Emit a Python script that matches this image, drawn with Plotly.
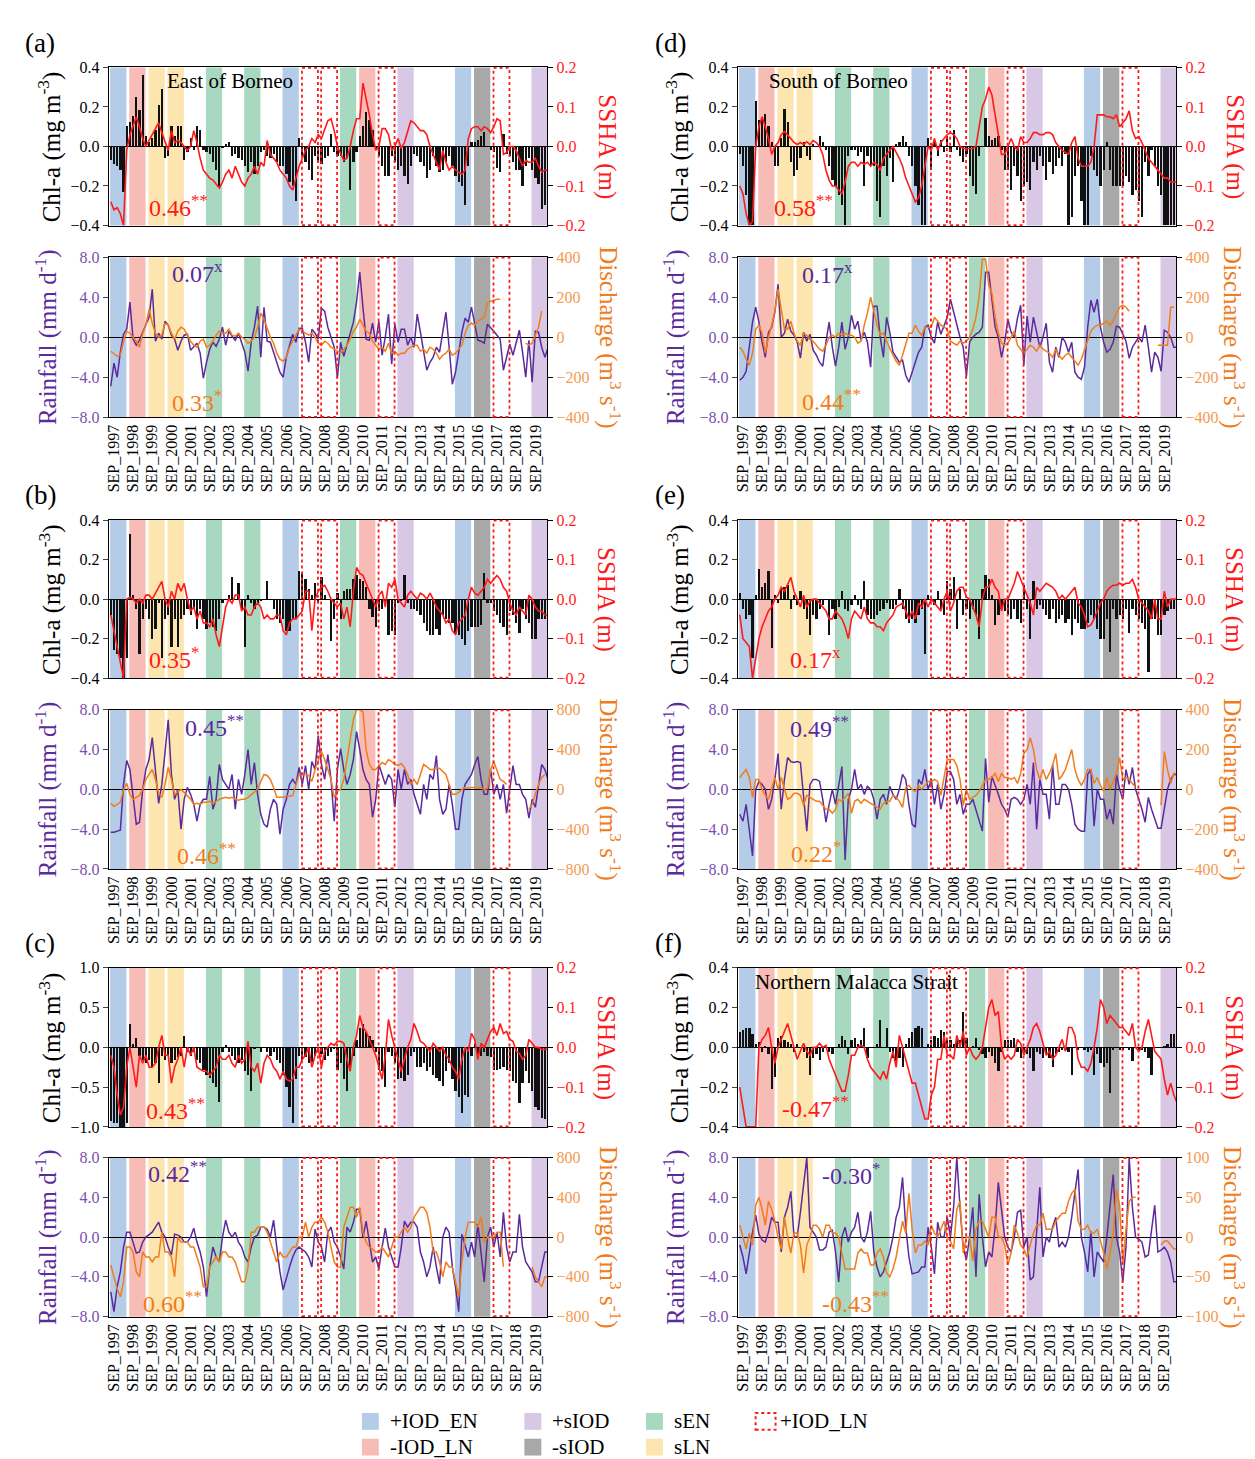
import plotly.graph_objects as go

W, H = 1255, 1459
FONT = "Liberation Serif, Times New Roman, serif"
RED = "#ff1a1a"
PURPLE = "#5b2a9c"
PURPLE_T = "#7a4fb0"
ORANGE = "#f07c1c"
ORANGE_T = "#f59a50"


def px(xp):
    return xp / W


def py(yp):
    return 1 - yp / H


# ---------------- time axis / ticks ----------------
N = 138
months = [-2 + 2 * k for k in range(N)]          # months since SEP 1997, bi-monthly
tick_years = list(range(1997, 2020))
tick_labels = ["SEP_%d" % y for y in tick_years]

# ---------------- climate event categories ----------------
event_names = ["+IOD_EN", "-IOD_LN", "sLN", "sEN", "+sIOD", "-sIOD", "+IOD_LN"]
event_years = {
    "+IOD_EN": [1997, 2006, 2015],
    "-IOD_LN": [1998, 2010],
    "sLN": [1999, 2000],
    "sEN": [2002, 2004, 2009],
    "+sIOD": [2012, 2019],
    "-sIOD": [2016],
    "+IOD_LN": [2007, 2008, 2011, 2017],
}
event_colors = {
    "+IOD_EN": "#b4cce8", "-IOD_LN": "#f8bcb6", "sLN": "#fde5b0",
    "sEN": "#a9d8c0", "+sIOD": "#d8c8e6", "-sIOD": "#a8a8a8", "+IOD_LN": None,
}

# ---------------- (a) East of Borneo ----------------
chl_a = [
    -0.07, -0.09, -0.10, -0.12, -0.23, 0.10,
    0.12, 0.15, 0.25, 0.18, 0.36, 0.05,
    0.02, 0.04, 0.08, 0.21, 0.29, -0.06,
    -0.05, 0.10, 0.05, 0.10, 0.10, -0.07,
    -0.03, 0.04, -0.02, 0.10, 0.08, -0.02,
    -0.03, -0.04, -0.08, -0.12, -0.20, -0.01,
    0.01, 0.02, -0.05, -0.04, -0.06, -0.07,
    -0.10, -0.13, -0.08, -0.14, -0.10, -0.03,
    -0.02, -0.05, -0.06, -0.04, -0.08, -0.10,
    -0.10, -0.14, -0.18, -0.20, -0.28, 0.04,
    -0.05, -0.08, -0.12, -0.17, -0.05, -0.08,
    -0.09, -0.06, -0.05, 0.06, -0.03, -0.05,
    -0.05, -0.08, -0.06, -0.22, -0.08, -0.03,
    0.05, 0.10, 0.17, 0.13, 0.08, -0.02,
    -0.05, -0.10, -0.15, -0.15, -0.05, -0.08,
    -0.12, -0.10, -0.15, -0.19, -0.10, -0.04,
    -0.05, -0.08, -0.10, -0.16, -0.12, -0.05,
    -0.10, -0.13, -0.12, -0.08, -0.05, -0.10,
    -0.15, -0.18, -0.20, -0.30, -0.10, 0.02,
    0.02, 0.03, 0.05, 0.07, 0.00, -0.02,
    -0.03, -0.11, -0.13, 0.06, -0.04, -0.05,
    -0.08, -0.12, -0.12, -0.20, -0.10, -0.06,
    -0.12, -0.16, -0.19, -0.32, -0.30, -0.30,
]
ssha_a = [
    -0.14, -0.16, -0.155, -0.17, -0.20, -0.01,
    0.03, 0.05, 0.075, 0.05, 0.02, 0.0,
    0.015, 0.03, 0.045, 0.06, 0.035, 0.01,
    -0.01, 0.04, 0.01, 0.015, 0.01, 0.0,
    -0.01, 0.0, 0.04, 0.01, -0.03, -0.06,
    -0.07, -0.08, -0.085, -0.095, -0.105, -0.09,
    -0.07, -0.06, -0.08, -0.05, -0.07, -0.09,
    -0.10, -0.08, -0.07, -0.05, -0.07, -0.04,
    -0.05, 0.015, -0.02, -0.03, -0.04, -0.06,
    -0.07, -0.08, -0.10, -0.11, -0.08, -0.05,
    -0.03, -0.01, 0.0, 0.02, 0.01, 0.03,
    0.02, 0.04, 0.065, 0.07, 0.04, 0.0,
    -0.02, -0.035, -0.03, 0.0, 0.04, 0.07,
    0.07, 0.16, 0.12, 0.08, 0.03, -0.01,
    0.0, 0.045, 0.045, 0.03, -0.01, 0.0,
    0.02, -0.005, 0.01, 0.04, 0.065, 0.06,
    0.05, 0.04, 0.04, 0.03, 0.0, -0.02,
    -0.04, -0.06, -0.01, -0.04, -0.06, -0.05,
    -0.06, -0.065, -0.07, -0.06, 0.02, 0.045,
    0.05, 0.05, 0.04, 0.05, 0.045, 0.035,
    0.05, 0.07, 0.065, -0.02, -0.015, 0.0,
    0.0, -0.01, -0.03, -0.05, -0.035, -0.04,
    -0.04, -0.03, -0.05, -0.065, -0.06, -0.06,
]
rain_a = [
    -4.9, -2.6, -4.0, -1.5, 0.3, 0.8,
    3.5, -0.2, -0.8, -0.3, 0.5, 1.2,
    2.0, 4.8, -0.4, 0.4, -0.2, 1.6,
    1.2, 0.2, -0.2, -1.3, -0.4, 0.2,
    0.3, -1.3, -1.0, -0.6, -1.6, -4.1,
    -2.5, -1.2, -0.5, -0.9, -0.2, 1.0,
    -0.8, 0.6, 0.1, -0.3, 0.4, -0.5,
    -1.5, -3.4, -0.5, 1.0, 3.1, -2.0,
    3.0, -0.4, -0.5, -1.5, -2.5, -3.5,
    -4.0, -2.0, -0.8, 0.3, -0.5, 0.9,
    0.9, -0.5, -2.5, 0.8, 0.4, -0.2,
    2.9, 2.6, 1.0, 0.0, -1.0, -4.1,
    -0.5, -1.9, -0.8, 0.3, 1.5, 3.5,
    6.5, 3.0, -0.2, -0.3, 1.4, -0.5,
    1.6, -1.8, 0.0, 2.3, -2.7, 1.3,
    -0.5, 0.8, 0.8, -0.8, 0.0, -1.0,
    2.3, 0.5, -1.5, -3.3, -2.5, -2.0,
    -1.0, -1.5, 0.5, 2.5, -1.0, -4.7,
    -3.5, -1.5, 0.5, 1.9, 1.5, 3.0,
    1.5, -0.3, -0.4, -0.6, 1.3, 1.0,
    0.6, 0.2, -0.2, -3.3, -2.0, -0.7,
    -1.8, -0.4, 0.7, -1.5, -4.0, -0.3,
    -4.5, 0.6, 0.5, -1.0, -2.0, -1.0,
]
dis_a = [
    -70, -85, -95, -90, -20, 30,
    20, 0, -20, -50, 20, 60,
    140, 70, 20, 0, 10, 70,
    60, 20, -10, 30, 50, 40,
    10, -20, -40, -50, -20, -10,
    -50, -40, -20, 10, 30, 20,
    20, 40, 10, 5, 20, 0,
    -10, -30, -20, 0, 50, 120,
    90, 40, 0, -30, -80, -110,
    -120, -100, -50, -20, 10, 40,
    30, 20, 10, 20, 0, -30,
    -40, -20, -30, -50, -60, -70,
    -80, -60, -40, -10, 30, 50,
    90, 60, 30, 20, -20, -40,
    -60, -50, -70, -30, -80, -70,
    -90, -80, -80, -60, -50, -40,
    -40, -70, -60, -80, -50, -60,
    -80, -110, -90, -80, -60, -90,
    -80, -60, -40, 20, 60, 70,
    60, 80, 90, 100, 170, 180,
    185, 190, 190, None, None, None,
    None, None, None, None, -30, -40,
    -30, 10, 50, 130, None, None,
]

# ---------------- (b) Southwest of Borneo ----------------
chl_b = [
    -0.08, -0.26, -0.28, -0.30, -0.40, -0.30,
    0.33, 0.02, -0.05, -0.28, -0.10, -0.05,
    -0.10, -0.20, -0.15, -0.02, -0.30, -0.10,
    -0.08, -0.24, -0.10, -0.24, -0.10, -0.08,
    -0.05, -0.08, -0.05, -0.15, -0.05, -0.10,
    -0.15, -0.12, -0.14, -0.16, -0.10, -0.02,
    0.00, 0.02, 0.11, 0.00, 0.08, -0.05,
    -0.24, 0.02, -0.02, -0.05, -0.02, -0.01,
    0.00, 0.09, 0.00, -0.05, -0.10, -0.12,
    -0.10, -0.16, -0.16, -0.10, -0.10, 0.14,
    0.13, 0.10, 0.05, 0.02, 0.08, -0.02,
    0.11, 0.02, 0.00, -0.21, -0.10, 0.03,
    -0.10, 0.04, 0.05, 0.05, 0.10, 0.12,
    0.10, 0.09, 0.06, -0.05, -0.09, -0.14,
    -0.06, -0.05, -0.02, -0.18, -0.16, -0.18,
    -0.02, -0.01, 0.12, -0.02, -0.05, -0.05,
    -0.06, -0.08, -0.12, -0.16, -0.18, -0.18,
    -0.15, -0.18, -0.08, -0.10, -0.12, -0.12,
    -0.17, -0.18, -0.20, -0.23, -0.16, -0.14,
    -0.14, -0.14, -0.13, 0.13, -0.02, -0.02,
    -0.06, -0.08, -0.12, -0.14, -0.18, -0.06,
    -0.08, -0.12, -0.17, -0.05, -0.10, -0.12,
    -0.20, -0.20, -0.10, -0.10, -0.10, -0.10,
]
ssha_b = [
    -0.04, -0.08, -0.12, -0.16, -0.20, 0.0,
    0.005, 0.0, -0.01, 0.0, -0.01, 0.01,
    0.01, 0.0, 0.015, 0.03, 0.045, 0.0,
    -0.02, 0.02, 0.0, 0.04, 0.02, 0.04,
    0.0, -0.03, -0.02, -0.05, -0.03, -0.06,
    -0.06, -0.07, -0.05, -0.09, -0.12, -0.07,
    -0.02, 0.0, -0.01, 0.01, 0.01, -0.03,
    -0.02, -0.04, -0.04, -0.02, -0.01, -0.02,
    -0.05, -0.04, -0.05, -0.05, -0.04, -0.04,
    -0.08, -0.09, -0.06, -0.05, -0.05, -0.04,
    -0.03, 0.02, 0.02, -0.08, 0.0, 0.02,
    0.03, 0.035, 0.02, 0.0, -0.01, -0.02,
    -0.01, -0.05, -0.02, -0.07, 0.02, 0.08,
    0.065, 0.06, 0.04, 0.02, 0.005, -0.02,
    0.01, 0.02, -0.02, 0.04, 0.03, 0.05,
    0.0, -0.01, -0.02, 0.01, 0.02, 0.01,
    0.0, 0.015, 0.01, 0.0, 0.015, 0.0,
    -0.02, -0.03, -0.04, -0.06, -0.05, -0.08,
    -0.09, -0.06, -0.05, -0.04, 0.0, 0.03,
    0.015, 0.01, 0.02, 0.03, 0.05, 0.04,
    0.05, 0.06, 0.05, 0.03, 0.02, -0.01,
    -0.03, -0.04, -0.02, -0.03, -0.04, 0.01,
    0.0, -0.02, -0.03, -0.03, -0.04, -0.04,
]
rain_b = [
    -4.3, -4.3, -4.2, -4.1, 0.5, 2.9,
    2.0, -1.0, -3.5, -3.3, 0.0, 2.0,
    3.0, 5.2, 1.5, -1.4, 0.5, 3.5,
    7.0, 1.5, -1.0, 0.0, -4.0, -1.0,
    0.2, -0.5, -1.5, -3.2, -1.5, -1.0,
    -1.0, 1.3, -2.0, -1.0, 2.5, 1.0,
    0.5, 0.0, 1.5, -2.0, 1.0, -0.5,
    1.5, 4.0, 0.5, 2.7, -0.5, -2.5,
    -3.5, -3.8, -2.0, -1.0, -1.5, -4.5,
    -2.0, -1.0, 0.5, 1.0, 0.5, 2.2,
    0.5, 2.4, 0.0, 2.8, 2.0, 5.4,
    2.5, 1.0, 3.5, 1.0, -3.2, 2.0,
    4.1, 2.0, 0.5, 1.5, 3.0, 5.8,
    4.0, 2.0, 1.0, 0.5, -2.8, -1.0,
    2.5, 1.5, 0.5, 1.5, 1.0, -1.8,
    2.0, 0.0, 2.0, 0.5, 1.0, -0.5,
    -1.5, -2.5, 0.5, -1.0, 1.5, 1.0,
    3.4, -1.0, -2.5, -2.0, 0.5, -1.5,
    -4.0, -4.0, -1.0, 0.5, 1.0, 1.5,
    2.5, 3.3, 1.0, -0.5, -0.5, 2.0,
    -0.5, 0.5, -1.0, 0.5, -2.4, 0.0,
    2.4, 0.5, 0.5, -0.5, -1.0, -2.9,
    -1.0, -1.8, 0.5, 2.5, 2.0, 1.0,
]
dis_b = [
    -140, -170, -150, -130, 0, 60,
    -50, -100, -80, -60, 0, 100,
    150, 200, 100, -40, -80, 50,
    220, 100, -50, -20, 0, -30,
    -60, -100, -150, -140, -150, -130,
    -130, -120, -140, -120, -100, -90,
    -80, -90, -80, -100, -110, -100,
    -100, -80, -50, -20, 0, 80,
    150, 140, 100, 20, -80, -80,
    -80, -70, -70, -60, 50, 150,
    150, 150, 140, 80, 200, 300,
    380, 300, 200, 100, -80, -20,
    0, 100, 300, 500, 700, 800,
    800, 780, 400, 250, 200, 200,
    230, 270, 250, 300, 280, 250,
    240, 260, 220, 150, 50, 100,
    50, 150, 250, 230, 200, 200,
    220, 210, 180, 150, 50, -50,
    -50, -30, 0, 20, 10, 20,
    20, 10, 20, 0, 10, 200,
    280, 200, 100, 80, 50, None,
    None, None, None, None, None, -200,
    -150, -50, 50, 120, 150, None,
]

# ---------------- (c) East of southern Sumatra ----------------
chl_c = [
    -0.92, -0.95, -0.95, -1.00, -1.00, -0.95,
    0.30, 0.05, 0.12, -0.10, -0.15, -0.20,
    -0.15, -0.25, -0.20, -0.45, -0.10, -0.15,
    -0.10, -0.20, -0.15, -0.12, -0.10, 0.15,
    -0.05, -0.10, -0.05, -0.15, -0.20, -0.28,
    -0.35, -0.38, -0.45, -0.50, -0.68, -0.05,
    0.03, -0.05, -0.10, -0.15, -0.20, -0.15,
    -0.30, -0.35, -0.55, -0.02, 0.00, -0.05,
    0.00, -0.05, -0.10, -0.05, -0.15, -0.20,
    -0.35, -0.50, -0.75, -0.95, -0.40, -0.10,
    -0.15, -0.12, -0.20, -0.18, -0.10, -0.05,
    -0.08, -0.15, -0.10, -0.05, -0.02, -0.28,
    -0.20, -0.40, -0.55, -0.30, -0.10, 0.10,
    0.25, 0.30, 0.20, 0.15, 0.10, -0.05,
    -0.28, -0.30, -0.50, -0.05, -0.10, -0.20,
    -0.40, -0.38, -0.42, -0.35, -0.10, -0.05,
    -0.25, -0.25, -0.20, -0.30, -0.25, -0.35,
    -0.38, -0.42, -0.48, -0.30, -0.20, -0.40,
    -0.55, -0.62, -0.82, -0.60, -0.62, -0.10,
    0.05, -0.08, -0.10, -0.05, -0.10, -0.12,
    -0.28, -0.28, -0.27, -0.25, -0.28, -0.30,
    -0.42, -0.45, -0.70, -0.45, -0.30, -0.45,
    -0.55, -0.75, -0.78, -0.88, -0.90, -0.90,
]
ssha_c = [
    -0.02, -0.05, -0.12, -0.17, -0.15, -0.05,
    0.0, -0.05, -0.10, -0.02, -0.04, -0.02,
    -0.05, -0.05, -0.04, 0.0, 0.03, -0.02,
    -0.02, -0.09, -0.05, -0.03, 0.0, -0.05,
    0.0, -0.02, 0.0, -0.05, -0.055, -0.06,
    -0.06, -0.07, -0.06, -0.05, -0.02, -0.03,
    -0.03, -0.02, -0.04, -0.05, -0.02, -0.04,
    -0.03, 0.015, -0.05, -0.06, -0.04, -0.09,
    -0.04, -0.02, -0.03, -0.05, -0.06, -0.08,
    -0.06, -0.08, -0.085, -0.08, -0.05, -0.05,
    -0.03, -0.02, 0.0, -0.05, -0.02, 0.0,
    -0.05, -0.01, 0.0, 0.01, 0.005, 0.015,
    0.015, 0.01, -0.03, -0.06, 0.0, 0.03,
    0.08, 0.05, 0.04, 0.02, 0.0, -0.02,
    -0.05, -0.08, -0.02, 0.07, 0.03, 0.0,
    -0.03, -0.06, -0.03, 0.0, 0.02, 0.06,
    0.04, 0.015, 0.01, 0.0, -0.01, 0.01,
    0.0, -0.01, 0.0, -0.02, -0.03, -0.05,
    -0.06, -0.08, -0.03, 0.0, -0.01, 0.035,
    0.02, -0.03, 0.01, 0.0, 0.02, 0.04,
    0.05, 0.03, 0.06, 0.035, 0.04, 0.02,
    0.015, -0.01, -0.015, -0.03, -0.02, 0.02,
    0.01, 0.0, 0.0, -0.005, -0.005, -0.005,
]
rain_c = [
    -5.5, -7.5, -5.0, -3.5, -1.0, 0.5,
    0.5, -0.5, -1.6, -1.5, -0.5, 0.0,
    0.3, 0.5, 1.0, 1.5, 0.5, 0.0,
    -1.0, -1.8, 0.3, 0.2, 0.0, -0.5,
    -0.5, 0.0, 0.9, -0.5, -1.5, -3.0,
    -6.0, -3.0, -1.0, -2.0, -2.5, 0.0,
    1.7, 0.5, 0.0, 0.5, -0.5, -1.0,
    -2.0, -2.5, -1.0, 0.0, 0.2, 1.0,
    1.0, 0.8, 0.0, 1.7, -1.0, -3.5,
    -5.3, -4.0, -3.0, -2.0, -1.3, -1.0,
    -1.3, -1.5, -2.0, -3.0, 0.8, -0.5,
    -1.0, -2.5, 0.5, 1.0, -0.5, -1.0,
    -2.0, -3.2, 1.0, 0.5, 1.5, 2.8,
    2.8, 0.0, 1.6, -0.5, -2.5, -2.0,
    -3.2, -1.0, 0.9, -1.0, -2.0, -3.0,
    -3.0, -1.0, 1.6, 1.0, 1.5, 1.5,
    1.0, -1.5, -2.5, -4.0, -3.0, -1.0,
    -3.0, -4.7, 0.0, 1.0, 0.5, -3.0,
    -5.0, -7.5, 0.3, -1.0, -2.0, -0.5,
    -2.0, 1.3, -1.5, -4.5, 0.0, 1.0,
    -1.0, 0.5, -2.0, 2.5, -1.0, -2.5,
    -1.5, -1.5, 2.3, -1.0, -2.5, -3.0,
    -3.5, -4.5, -4.5, -3.0, -1.5, -1.5,
]
dis_c = [
    -280, -400, -520, -600, -450, -100,
    -100, -150, -350, -400, -150, -200,
    -200, -250, -200, -200, 50, -150,
    -150, -200, -400, 0, -50, -50,
    -50, -100, -100, -200, -300, -500,
    -500, -300, -250, -200, -250, -150,
    -150, -200, -200, -250, -350, -450,
    -450, -300, 50, 50, 100, 100,
    100, 50, -50, -150, -250, -150,
    -200, -200, -150, -100, -100, 0,
    0, 150, 0, 100, 150, 150,
    200, 150, 50, -100, -250, -300,
    -300, 100, 200, 300, 300, 200,
    300, 50, -50, -100, -120, -150,
    -150, -100, -150, -200, -100, 0,
    0, 50, 100, 50, 100, 200,
    250, 300, 300, 250, 100, -150,
    -150, -250, -400, -250, -300, -300,
    -450, -600, -250, 0, 150, 150,
    150, 100, 200, -50, 0, 0,
    0, 50, 50, -300, None, None,
    None, None, None, None, None, None,
    -300, -400, -450, -500, -400, -400,
]

# ---------------- (d) South of Borneo ----------------
chl_d = [
    -0.04, -0.10, -0.25, -0.40, -0.40, 0.23,
    0.13, 0.13, 0.16, 0.10, 0.02, -0.10,
    -0.10, 0.04, 0.19, 0.12, -0.08, -0.15,
    -0.12, -0.06, 0.02, -0.05, -0.07, 0.01,
    0.00, 0.05, 0.02, -0.02, -0.10, -0.17,
    -0.20, -0.25, -0.30, -0.40, -0.05, -0.02,
    -0.02, -0.05, -0.03, -0.20, -0.05, -0.10,
    -0.10, -0.28, -0.36, -0.10, -0.15, -0.06,
    -0.18, 0.01, 0.02, 0.05, 0.02, -0.05,
    -0.10, -0.20, -0.30, -0.40, -0.40, 0.04,
    -0.12, 0.02, -0.05, 0.03, -0.03, 0.05,
    -0.03, 0.08, -0.02, -0.05, -0.08, -0.04,
    -0.15, -0.20, -0.24, -0.05, 0.00, 0.14,
    0.05, 0.03, 0.04, 0.05, -0.02, -0.12,
    -0.12, -0.22, -0.10, -0.15, -0.28, -0.20,
    -0.18, -0.22, -0.08, -0.12, -0.05, -0.10,
    -0.17, -0.08, -0.14, -0.10, -0.06, -0.10,
    -0.04, -0.40, -0.36, -0.15, -0.10, -0.28,
    -0.40, -0.40, -0.05, -0.12, -0.15, -0.20,
    -0.12, 0.02, -0.12, -0.20, -0.20, -0.20,
    -0.20, -0.15, -0.18, -0.25, -0.22, -0.28,
    -0.36, -0.08, -0.15, -0.02, -0.10, -0.20,
    -0.25, -0.40, -0.40, -0.40, -0.40, -0.40,
]
ssha_d = [
    -0.10, -0.12, -0.17, -0.20, -0.19, 0.0,
    0.05, 0.075, 0.05, 0.02, -0.02, 0.0,
    0.01, 0.03, 0.038, 0.03, 0.02, 0.01,
    0.005, 0.01, 0.005, 0.012, 0.005, 0.015,
    0.01, 0.0, -0.02, -0.06, -0.085, -0.10,
    -0.10, -0.11, -0.12, -0.09, -0.05, -0.04,
    -0.04, -0.05, -0.04, -0.045, -0.04, -0.05,
    -0.04, -0.045, -0.06, -0.03, -0.02, -0.01,
    0.0, -0.015, -0.03, -0.05, -0.08, -0.10,
    -0.12, -0.14, -0.13, -0.10, -0.05, 0.0,
    -0.01, 0.02, -0.01, 0.01, 0.02, 0.03,
    0.035, 0.03, 0.02, 0.0, -0.005, -0.005,
    -0.005, -0.005, 0.0, 0.05, 0.10, 0.12,
    0.15, 0.13, 0.08, 0.02, -0.02, -0.02,
    0.0, 0.02, 0.0, -0.01, 0.025, 0.01,
    0.01, 0.02, 0.035, 0.035, 0.03, 0.03,
    0.035, 0.035, 0.03, 0.01, 0.0, -0.01,
    -0.015, -0.02, 0.01, 0.025, -0.03, -0.05,
    -0.05, -0.05, -0.04, 0.0, 0.08, 0.08,
    0.08, 0.075, 0.075, 0.07, 0.08, 0.05,
    0.06, 0.07, 0.09, 0.04, 0.02, 0.025,
    0.01, -0.01, -0.03, -0.04, -0.05, -0.06,
    -0.07, -0.08, -0.08, -0.09, -0.09, -0.09,
]
rain_d = [
    -4.3, -4.0, -3.4, -1.0, 1.5, 3.0,
    1.5, -0.5, -2.0, 0.5, 1.0, 2.5,
    5.3, 0.0, 0.4, 1.8, 0.6, 0.2,
    -0.5, -2.1, 0.5, -0.4, 0.3, -1.3,
    -1.8, -2.5, -2.9, -0.5, 1.5, -1.0,
    -2.9, -1.0, 1.5, -1.2, 0.0, 2.2,
    0.8, 1.6, -0.3, 0.5, -0.5, -3.0,
    3.1, 3.1, 0.0, -2.0, 2.0, 0.5,
    -1.5, -2.0, -2.5, -2.3, -3.8, -4.5,
    -3.5, -2.5, -1.5, -1.0, 1.0, 1.2,
    0.0, -0.6, 1.5, 0.3, 1.2, 2.0,
    3.8, 2.5, 1.0, 0.0, -1.0, -3.9,
    -0.5, 0.0, 0.3, 0.5, 1.0, 6.5,
    6.5, 4.0, 1.0, 0.0, -2.0, -0.5,
    1.8, 0.5, 0.0, 1.9, 3.2, -2.8,
    2.1, -0.5, 2.0, 0.5, -1.0, 0.0,
    1.4, -2.5, -3.5, -1.0, -2.0, 0.0,
    -0.5, -1.5, -0.5, -3.5, -4.0, -4.2,
    -3.0, 1.0, 3.7, 2.5, 3.8, 1.0,
    -0.5, -1.5, -1.2, -0.5, 1.1, 1.0,
    0.3, -0.4, -2.1, -1.0, -0.5, 0.0,
    -0.5, 1.2, -1.0, -3.5, -1.5, -2.0,
    -3.4, 0.7, 0.5, 0.0, -1.0, -1.0,
]
dis_d = [
    -50, -70, -110, -140, -80, 40,
    60, 20, -80, 0, 60, 130,
    240, 150, 40, 40, 80, 20,
    -20, -40, 20, 10, -10, -20,
    -40, -60, -70, -40, 0, 10,
    0, 20, 10, 20, 10, 10,
    0, -30, -20, 60, 120, 200,
    130, 60, 10, 20, -20, -60,
    -90, -120, -140, -90, -40, 20,
    20, 60, 30, 10, 50, 50,
    50, 100, 80, 60, 50, 40,
    -20, -30, -40, -20, -30, -20,
    0, 40, 100, 200, 390, 390,
    260, 220, 100, 20, -30, -40,
    -30, 0, 30, -40, -60, -80,
    -60, -40, -50, -70, -40, -60,
    -70, -80, -100, -60, -90, -110,
    -90, -80, -100, -120, -140, -110,
    -60, -20, 30, 50, 60, 60,
    70, 80, 60, 80, 120, 150,
    160, 150, 130, None, None, None,
    None, None, None, None, None, -40,
    -40, -40, -40, 150, 150, None,
]

# ---------------- (e) Northwest of Borneo ----------------
chl_e = [
    0.03, -0.05, -0.10, -0.08, -0.30, 0.02,
    0.15, 0.06, 0.08, 0.14, -0.25, 0.02,
    -0.02, 0.05, 0.06, 0.07, -0.05, 0.02,
    -0.03, 0.04, -0.05, -0.10, -0.18, -0.08,
    -0.10, -0.05, -0.03, 0.00, -0.18, -0.05,
    -0.10, -0.04, 0.04, -0.05, -0.06, -0.03,
    0.02, -0.03, -0.05, 0.09, -0.08, -0.10,
    -0.10, -0.08, -0.06, -0.05, -0.02, -0.05,
    -0.05, -0.03, 0.05, -0.05, -0.10, -0.12,
    -0.10, -0.12, -0.08, -0.05, -0.28, 0.02,
    0.00, -0.03, 0.04, -0.05, -0.08, 0.09,
    0.05, 0.11, -0.15, 0.05, -0.08, -0.05,
    -0.10, -0.05, -0.08, -0.20, 0.05, 0.12,
    0.10, 0.02, -0.13, -0.08, -0.05, -0.06,
    -0.08, -0.10, -0.05, -0.10, -0.12, 0.07,
    -0.05, -0.20, 0.09, -0.05, -0.03, -0.05,
    -0.08, -0.10, -0.05, -0.12, -0.10, -0.08,
    -0.12, -0.10, -0.18, -0.10, -0.12, -0.15,
    -0.15, -0.12, -0.08, -0.10, -0.15, -0.20,
    -0.20, -0.10, -0.27, -0.05, -0.10, -0.08,
    -0.10, -0.05, -0.17, -0.05, -0.08, -0.10,
    -0.12, -0.15, -0.37, -0.10, -0.10, -0.18,
    -0.18, -0.08, -0.06, -0.05, -0.05, -0.05,
]
ssha_e = [
    -0.04, -0.10, -0.11, -0.12, -0.20, -0.15,
    -0.10, -0.07, -0.05, -0.03, -0.02, 0.0,
    0.01, 0.03, 0.02, 0.04, 0.055, 0.02,
    0.0, -0.02, 0.01, -0.02, -0.005, 0.0,
    0.0, -0.01, -0.02, -0.03, -0.05, -0.05,
    -0.03, -0.04, -0.05, -0.07, -0.10, -0.05,
    -0.03, -0.04, -0.05, -0.02, -0.05, -0.06,
    -0.06, -0.07, -0.07, -0.08, -0.06, -0.05,
    -0.04, -0.02, -0.015, -0.01, -0.03, -0.05,
    -0.03, -0.05, -0.01, -0.02, 0.0, -0.02,
    0.0, -0.01, -0.02, -0.03, 0.0, 0.02,
    -0.03, -0.01, 0.02, 0.03, 0.03, 0.005,
    0.0, -0.02, -0.04, -0.07, 0.0, 0.03,
    0.03, 0.05, 0.03, 0.02, -0.03, 0.0,
    0.0, 0.02, 0.04, 0.07, 0.05, 0.03,
    0.01, -0.01, -0.04, 0.03, 0.02, 0.03,
    0.04, 0.035, 0.03, 0.02, 0.0, 0.01,
    0.0, 0.01, 0.02, 0.03, -0.01, -0.02,
    -0.04, -0.07, -0.065, -0.05, -0.03, -0.01,
    0.0, 0.02, 0.03, 0.035, 0.035, 0.04,
    0.035, 0.04, 0.04, 0.05, 0.03, 0.0,
    -0.01, -0.02, -0.03, -0.05, 0.0, -0.05,
    -0.05, 0.02, -0.02, 0.0, 0.0, 0.0,
]
rain_e = [
    -2.5, -3.2, -1.5, -4.0, -6.7, 0.0,
    0.8, 0.5, 0.0, -2.0, -1.0, 1.0,
    3.6, -2.0, 1.0, 3.2, 2.8, 2.7,
    2.8, 2.7, -1.0, -4.2, 0.5, 1.0,
    1.0, 0.8, -1.0, -3.3, -1.5, 0.0,
    -1.5, 0.5, 2.3, -7.1, -1.0, 0.0,
    2.0, 0.0, 0.5, -0.5, 0.3, 0.0,
    -1.0, -3.0, -1.0, -0.5, -1.5, 0.3,
    -0.5, -1.0, 0.0, 1.5, 1.0, -1.5,
    -3.5, -3.8, 1.0, 0.5, 2.0, 0.0,
    1.0, -1.5, 0.5, -2.0, -0.5, 1.8,
    1.8, 1.0, -1.5, -0.5, -2.5, -1.5,
    -1.5, -1.0, -2.0, -3.0, -4.2, 3.1,
    -1.3, 1.3, 0.5, -0.5, -1.5, -2.0,
    -2.8, -1.0, -0.8, -1.0, -1.5, -1.0,
    0.5, -1.5, 2.7, -4.0, 1.0, -0.5,
    -0.5, -3.0, 2.5, -1.5, -1.5, 0.5,
    0.5, 0.0, -1.5, -3.5, -4.0, -4.2,
    -4.2, 1.5, 2.0, -3.7, 0.0, -1.0,
    -1.0, -3.0, -2.0, -3.5, 1.5, 0.0,
    -1.0, 2.0, 0.5, 2.2, 0.0, -1.0,
    -2.0, -3.3, -0.8, -2.0, -3.0, -3.9,
    -3.9, -2.0, 0.0, 1.0, 1.5, 1.5,
]
dis_e = [
    60, 80, 100, 60, -40, 50,
    50, 0, -30, -50, 0, 60,
    0, 60, 0, -50, -40, -20,
    -20, -30, -80, -30, -40, -50,
    -60, -60, -80, -100, -100, -120,
    -100, -50, -60, -40, -20, -120,
    -60, -50, -70, -50, -60, -70,
    -80, -90, -100, -70, -60, -60,
    -30, -40, -60, -90, 10, 20,
    0, -10, 20, 0, 20, 40,
    40, 50, 40, -30, 60, 150,
    150, 150, 120, 50, -80, 0,
    -50, -40, -30, -10, 20, 50,
    50, 60, 80, 40, 80, 60,
    60, 50, 60, 30, 80, 180,
    200, 260, 200, 100, 50, 100,
    50, 80, 120, 180, 50, 70,
    100, 150, 200, 100, 50, 20,
    50, 100, 100, 30, 60, 20,
    -10, 60, 0, 40, 80, 160,
    50, 60, 50, 30, 10, None,
    None, None, None, None, None, None,
    -80, 190, 100, 30, 80, 80,
]

# ---------------- (f) Northern Malacca Strait ----------------
chl_f = [
    0.08, 0.09, 0.10, 0.10, 0.07, 0.02,
    0.03, -0.02, 0.01, -0.03, -0.21, -0.15,
    0.05, 0.06, 0.04, 0.03, 0.02, -0.02,
    0.02, 0.00, -0.02, -0.05, -0.14, -0.05,
    -0.03, -0.06, -0.02, 0.00, -0.02, -0.03,
    0.00, 0.02, 0.06, 0.04, -0.03, 0.04,
    0.05, 0.02, 0.04, 0.10, -0.05, 0.00,
    0.00, 0.02, 0.14, 0.00, 0.10, -0.02,
    -0.05, -0.07, -0.05, -0.10, 0.02, 0.05,
    0.08, 0.10, 0.11, 0.10, 0.00, 0.02,
    0.04, 0.06, 0.05, 0.09, 0.08, 0.04,
    0.04, 0.02, 0.06, 0.04, 0.18, 0.05,
    0.00, 0.01, 0.05, -0.01, -0.03, -0.05,
    -0.02, -0.04, -0.08, -0.12, -0.02, 0.04,
    0.04, 0.04, 0.05, -0.02, -0.05, -0.02,
    -0.03, -0.05, -0.12, -0.02, -0.03, -0.05,
    -0.03, -0.05, -0.10, -0.03, -0.02, -0.01,
    -0.01, -0.02, -0.14, 0.00, -0.01, 0.00,
    -0.01, -0.02, -0.01, -0.14, -0.03, -0.08,
    -0.10, -0.08, -0.23, -0.01, 0.00, -0.01,
    -0.01, 0.00, -0.01, -0.07, 0.00, -0.01,
    -0.01, -0.02, -0.05, -0.14, 0.00, 0.00,
    0.00, 0.01, 0.02, 0.07, 0.07, 0.00,
]
ssha_f = [
    -0.10, -0.15, -0.20, -0.20, -0.20, -0.20,
    0.0, 0.02, 0.03, 0.05, 0.0, -0.04,
    0.0, 0.02, 0.04, 0.06, 0.03, 0.0,
    -0.03, -0.01, 0.01, -0.01, -0.02, 0.0,
    0.0, 0.01, 0.0, 0.005, -0.03, -0.05,
    -0.07, -0.09, -0.11, -0.11, -0.07, -0.02,
    -0.02, 0.0, 0.005, 0.0, -0.03, -0.05,
    -0.06, -0.07, -0.08, -0.06, -0.08, -0.04,
    -0.01, -0.05, 0.03, 0.0, -0.03, -0.06,
    -0.09, -0.09, -0.12, -0.15, -0.18, -0.18,
    -0.12, -0.10, -0.03, -0.03, 0.03, -0.02,
    -0.02, -0.03, 0.03, 0.0, 0.04, -0.02,
    0.0, -0.02, -0.03, -0.02, 0.0, 0.05,
    0.10, 0.12, 0.08, 0.09, 0.0, -0.03,
    -0.02, -0.03, -0.02, 0.02, 0.01, -0.02,
    0.0, 0.02, 0.05, 0.06, 0.04, 0.01,
    -0.02, -0.01, -0.03, -0.02, 0.0, 0.02,
    -0.01, 0.05, 0.05, 0.03, -0.03, -0.05,
    -0.05, -0.06, -0.04, 0.0, 0.05, 0.12,
    0.10, 0.06, 0.08, 0.07, 0.06, 0.05,
    0.05, 0.04, 0.03, 0.06, 0.0, -0.01,
    0.0, 0.04, 0.07, 0.03, -0.01, -0.02,
    -0.03, -0.08, -0.12, -0.09, -0.12, -0.14,
]
rain_f = [
    -0.8, -2.0, -3.7, -1.5, 0.5, 2.2,
    0.3, -0.3, -0.5, 0.5, 2.0, 1.5,
    1.5, -1.5, 2.0, 3.0, 4.6, 0.0,
    0.0, 2.5, 5.0, 8.0, 1.0, 0.5,
    0.0, -1.3, -1.3, -1.0, 0.5, 0.7,
    -1.5, -4.5, 0.0, 1.0, -0.5, 0.5,
    1.0, 2.5, 0.0, -0.5, 0.5, 2.6,
    -1.5, -3.0, -4.0, -3.5, -2.5, -1.5,
    0.0, 2.0, 3.0, 6.0, 1.0, -2.0,
    -3.7, -3.6, -3.5, -3.0, -3.0, 1.0,
    -1.0, -3.7, 1.5, 0.0, 0.0, 2.0,
    0.0, 3.0, 8.0, 3.0, -1.0, -2.3,
    0.0, 3.0, -4.0, 4.3, 0.0, -3.0,
    -1.5, -2.0, 1.0, 5.5, 3.0, 0.0,
    -1.0, -1.5, 0.0, 2.5, 2.7, -1.0,
    0.0, -4.3, -4.0, 1.0, 5.0, -2.0,
    0.0, -0.5, 1.0, 2.0, -1.0, -0.5,
    -1.0, 0.0, 2.0, 4.5, 6.8, 0.0,
    -1.5, -3.5, 0.6, -4.0, -1.5, -2.0,
    -2.5, 0.0, 3.0, 6.3, 0.0, -1.5,
    -4.5, -1.0, 8.0, 3.0, 0.0, -0.2,
    -0.5, -2.0, -1.8, 1.0, 3.2, -1.5,
    -1.3, -1.0, -1.5, -2.5, -4.5, -4.5,
]
dis_f = [
    15, 0, -15, 5, -10, 40,
    50, 35, 15, 45, 35, 20,
    0, -15, 25, 0, -20, 5,
    5, -10, -45, -10, 0, 15,
    15, 10, 0, 15, 15, 5,
    5, 0, -20, -40, -40, -40,
    -40, -20, -15, -20, -20, -35,
    -35, -20, -15, -25, -45, -50,
    -40, -25, 0, 20, 5, 55,
    10, -20, -10, -10, -5, -10,
    15, 5, 0, 10, 20, 0,
    -5, -15, 35, 45, -20, 0,
    0, -30, 10, 20, 20, 10,
    0, 25, 25, 0, 0, -10,
    -35, -20, 15, 5, -10, -15,
    -25, -10, 5, 15, 15, 30,
    10, 10, 10, 20, 25, 30,
    30, 45, 55, 60, 20, 10,
    10, 15, 5, 5, 10, -5,
    -20, -40, -20, 5, 60, 40,
    -35, 10, 45, 50, 50, None,
    None, None, None, None, None, None,
    -10, -5, -5, -10, -15, -15,
]

for name, arr in list(globals().items()):
    if name[:4] in ("chl_", "ssha", "rain", "dis_") and isinstance(arr, list):
        assert len(arr) == N, (name, len(arr))

# ---------------- panel configuration ----------------
panels = [
    dict(tag="(a)", col=0, row=0, chl=chl_a, ssha=ssha_a, rain=rain_a, dis=dis_a,
         crng=0.4, cdt=0.2, drng=400, ddt=200,
         region=("East of Borneo", 32, 0.40, "top"),
         rc=("0.46<sup>**</sup>", 21, -0.3), pc=("0.07<sup>x</sup>", 35, 6.5), oc=("0.33<sup>*</sup>", 35, -6.4)),
    dict(tag="(b)", col=0, row=1, chl=chl_b, ssha=ssha_b, rain=rain_b, dis=dis_b,
         crng=0.4, cdt=0.2, drng=800, ddt=400,
         region=("Southwest of<br>Borneo", 13, 0.41, "top"),
         rc=("0.35<sup>*</sup>", 21, -0.3), pc=("0.45<sup>**</sup>", 43, 6.4), oc=("0.46<sup>**</sup>", 38, -6.5)),
    dict(tag="(c)", col=0, row=2, chl=chl_c, ssha=ssha_c, rain=rain_c, dis=dis_c,
         crng=1.0, cdt=0.5, drng=800, ddt=400,
         region=("East of southern<br>Sumatra", 10, 1.02, "top"),
         rc=("0.43<sup>**</sup>", 19, -0.78), pc=("0.42<sup>**</sup>", 20, 6.5), oc=("0.60<sup>**</sup>", 17, -6.5)),
    dict(tag="(d)", col=1, row=0, chl=chl_d, ssha=ssha_d, rain=rain_d, dis=dis_d,
         crng=0.4, cdt=0.2, drng=400, ddt=200,
         region=("South of Borneo", 15, 0.40, "top"),
         rc=("0.58<sup>**</sup>", 18, -0.3), pc=("0.17<sup>x</sup>", 36, 6.4), oc=("0.44<sup>**</sup>", 36, -6.3)),
    dict(tag="(e)", col=1, row=1, chl=chl_e, ssha=ssha_e, rain=rain_e, dis=dis_e,
         crng=0.4, cdt=0.2, drng=400, ddt=200,
         region=("Northwest of<br>Borneo", 15, 0.41, "top"),
         rc=("0.17<sup>x</sup>", 28, -0.3), pc=("0.49<sup>**</sup>", 28, 6.3), oc=("0.22<sup>*</sup>", 29, -6.3)),
    dict(tag="(f)", col=1, row=2, chl=chl_f, ssha=ssha_f, rain=rain_f, dis=dis_f,
         crng=0.4, cdt=0.2, drng=100, ddt=50,
         region=("Northern Malacca Strait", 6, 0.40, "top"),
         rc=("-0.47<sup>**</sup>", 23, -0.3), pc=("-0.30<sup>*</sup>", 48, 6.3), oc=("-0.43<sup>**</sup>", 48, -6.5)),
]

# pixel positions of plot areas
COLS = [(97, 537), (728, 1168)]
ROWS = [((52, 212), (244, 406)), ((510, 670), (702, 863)), ((963, 1124), (1155, 1316))]
XR = [-3.3, 271.5]


def akey(p, n):
    return p + "axis" + ("" if n == 1 else str(n))


def aref(p, n):
    return p + ("" if n == 1 else str(n))


fig = go.Figure()
layout = dict(width=W, height=H, autosize=False, margin=dict(l=0, r=0, t=0, b=0),
              paper_bgcolor="white", plot_bgcolor="white", showlegend=False,
              font=dict(family=FONT, color="black"), bargap=0)
shapes = []
annotations = []

for j, p in enumerate(panels):
    t = 2 * j + 1
    b = 2 * j + 2
    x0, x1 = COLS[p["col"]]
    (tt, tb), (bt, bb) = ROWS[p["row"]]
    xdom = [px(x0), px(x1)]
    for n in (t, b):
        layout[akey("x", n)] = dict(
            domain=xdom, anchor=aref("y", n), range=XR, showgrid=False, zeroline=False,
            showline=True, mirror=True, linecolor="black", linewidth=1.2,
            ticks="", showticklabels=(n == b),
            tickvals=[12 * i for i in range(len(tick_years))], ticktext=tick_labels,
            tickangle=-90, tickfont=dict(family=FONT, size=16, color="black"))
    # top: chl-a (left) / SSHA (right)
    layout[akey("y", t)] = dict(
        domain=[py(tb), py(tt)], anchor=aref("x", t), range=[-p["crng"], p["crng"]],
        dtick=p["cdt"], tickformat=".1f", showgrid=False, zeroline=True, zerolinecolor="black",
        zerolinewidth=1.2, showline=True, linecolor="black", ticks="outside", ticklen=5,
        tickfont=dict(family=FONT, size=16, color="black"))
    layout[akey("y", t + 12)] = dict(
        overlaying=aref("y", t), side="right", anchor=aref("x", t), range=[-0.2, 0.2], dtick=0.1,
        tickformat=".1f", showgrid=False, zeroline=False, showline=True, linecolor="black",
        ticks="outside", ticklen=5, tickcolor="black", tickfont=dict(family=FONT, size=16, color=RED))
    # bottom: rainfall (left) / discharge (right)
    layout[akey("y", b)] = dict(
        domain=[py(bb), py(bt)], anchor=aref("x", b), range=[-8, 8], dtick=4,
        tickformat=".1f", showgrid=False, zeroline=True, zerolinecolor="black", zerolinewidth=1.2,
        showline=True, linecolor="black", ticks="outside", ticklen=5,
        tickfont=dict(family=FONT, size=16, color=PURPLE_T))
    layout[akey("y", b + 12)] = dict(
        overlaying=aref("y", b), side="right", anchor=aref("x", b), range=[-p["drng"], p["drng"]],
        dtick=p["ddt"], tickformat="d", showgrid=False, zeroline=False, showline=True,
        linecolor="black", ticks="outside", ticklen=5, tickcolor="black",
        tickfont=dict(family=FONT, size=16, color=ORANGE_T))

    # traces
    fig.add_trace(go.Bar(x=months, y=p["chl"], xaxis=aref("x", t), yaxis=aref("y", t),
                         marker=dict(color="#111111", line=dict(width=0)), width=1.1))
    fig.add_trace(go.Scatter(x=months, y=p["ssha"], xaxis=aref("x", t), yaxis=aref("y", t + 12),
                             mode="lines", line=dict(color=RED, width=1.6)))
    fig.add_trace(go.Scatter(x=months, y=p["rain"], xaxis=aref("x", b), yaxis=aref("y", b),
                             mode="lines", line=dict(color=PURPLE, width=1.5)))
    fig.add_trace(go.Scatter(x=months, y=p["dis"], xaxis=aref("x", b), yaxis=aref("y", b + 12),
                             mode="lines", line=dict(color=ORANGE, width=1.5), connectgaps=False))

    # event bands
    for n in (t, b):
        for ev in event_names:
            for yr in event_years[ev]:
                m = 12 * (yr - 1997)
                if event_colors[ev] is not None:
                    shapes.append(dict(type="rect", xref=aref("x", n), yref=aref("y", n) + " domain",
                                       x0=m - 2.4, x1=m + 7.8, y0=0, y1=1, layer="below",
                                       fillcolor=event_colors[ev], line=dict(width=0)))
                else:
                    shapes.append(dict(type="rect", xref=aref("x", n), yref=aref("y", n) + " domain",
                                       x0=m - 2.2, x1=m + 7.8, y0=0.003, y1=0.997, layer="above",
                                       fillcolor="rgba(0,0,0,0)", line=dict(color=RED, width=1.8, dash="dot")))

    # text
    rtxt, rx, ry, ranch = p["region"]
    annotations.append(dict(text=rtxt, x=rx, y=ry, xref=aref("x", t), yref=aref("y", t),
                            xanchor="left", yanchor=ranch, align="left", showarrow=False,
                            font=dict(family=FONT, size=21, color="black")))
    txt, cx, cy = p["rc"]
    annotations.append(dict(text=txt, x=cx, y=cy, xref=aref("x", t), yref=aref("y", t),
                            xanchor="left", yanchor="middle", showarrow=False,
                            font=dict(family=FONT, size=24, color=RED)))
    txt, cx, cy = p["pc"]
    annotations.append(dict(text=txt, x=cx, y=cy, xref=aref("x", b), yref=aref("y", b),
                            xanchor="left", yanchor="middle", showarrow=False,
                            font=dict(family=FONT, size=24, color=PURPLE)))
    txt, cx, cy = p["oc"]
    annotations.append(dict(text=txt, x=cx, y=cy, xref=aref("x", b), yref=aref("y", b),
                            xanchor="left", yanchor="middle", showarrow=False,
                            font=dict(family=FONT, size=24, color=ORANGE)))

    # axis titles
    lx = 38 if p["col"] == 0 else 668
    rx2 = 596 if p["col"] == 0 else 1226
    annotations.append(dict(text="Chl-a (mg m<sup>-3</sup>)", x=px(lx), y=py((tt + tb) / 2),
                            xref="paper", yref="paper", textangle=-90, showarrow=False,
                            xanchor="center", yanchor="middle", font=dict(family=FONT, size=25, color="black")))
    annotations.append(dict(text="Rainfall (mm d<sup>-1</sup>)", x=px(lx - 4), y=py((bt + bb) / 2),
                            xref="paper", yref="paper", textangle=-90, showarrow=False,
                            xanchor="center", yanchor="middle", font=dict(family=FONT, size=25, color=PURPLE)))
    annotations.append(dict(text="SSHA (m)", x=px(rx2), y=py((tt + tb) / 2),
                            xref="paper", yref="paper", textangle=90, showarrow=False,
                            xanchor="center", yanchor="middle", font=dict(family=FONT, size=25, color=RED)))
    annotations.append(dict(text="Discharge (m<sup>3</sup> s<sup>-1</sup>)",
                            x=px(rx2 + (4 if p["col"] == 0 else 0)),
                            y=py((bt + bb) / 2), xref="paper", yref="paper", textangle=90,
                            showarrow=False, xanchor="center", yanchor="middle",
                            font=dict(family=FONT, size=25, color=ORANGE)))
    # panel tag
    annotations.append(dict(text=p["tag"], x=px(11 if p["col"] == 0 else 643), y=py(tt - 25),
                            xref="paper", yref="paper", xanchor="left", yanchor="middle", showarrow=False,
                            font=dict(family=FONT, size=27, color="black")))

# ---------------- legend ----------------
legend_items = [
    ("+IOD_EN", 351, 1422), ("+sIOD", 514, 1422), ("sEN", 636, 1422), ("+IOD_LN", 746, 1422),
    ("-IOD_LN", 351, 1448), ("-sIOD", 514, 1448), ("sLN", 636, 1448),
]
for ev, lxp, lyp in legend_items:
    if event_colors[ev] is not None:
        shapes.append(dict(type="rect", xref="paper", yref="paper", x0=px(lxp), x1=px(lxp + 17),
                           y0=py(lyp + 8.5), y1=py(lyp - 8.5),
                           fillcolor=event_colors[ev], line=dict(width=0)))
        tx = lxp + 26
    else:
        shapes.append(dict(type="rect", xref="paper", yref="paper", x0=px(lxp), x1=px(lxp + 20),
                           y0=py(lyp + 8.5), y1=py(lyp - 8.5),
                           fillcolor="rgba(0,0,0,0)", line=dict(color=RED, width=2, dash="dot")))
        tx = lxp + 22
    annotations.append(dict(text=ev, x=px(tx), y=py(lyp), xref="paper", yref="paper",
                            xanchor="left", yanchor="middle", showarrow=False,
                            font=dict(family=FONT, size=21, color="black")))

layout["shapes"] = shapes
layout["annotations"] = annotations
fig.update_layout(**layout)
fig.write_html("out.html")
